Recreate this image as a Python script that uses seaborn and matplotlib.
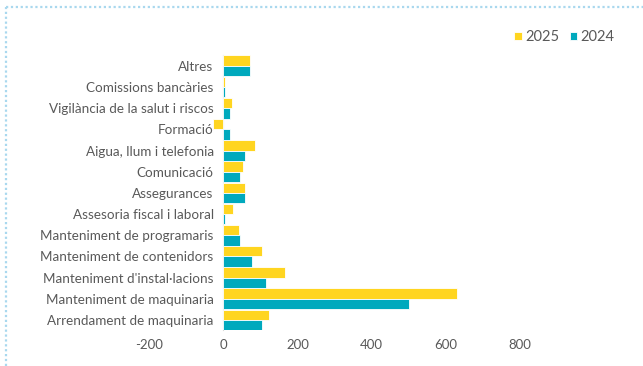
import numpy as np
import pandas as pd
import matplotlib
matplotlib.use("Agg")
import matplotlib.pyplot as plt
from matplotlib.lines import Line2D
import seaborn as sns

sns.set_style("white")
plt.rcParams.update({"font.family": ["Lato", "DejaVu Sans"], "font.size": 9.5,
                     "axes.unicode_minus": False})

YELLOW, TEAL, GREY = "#FFD520", "#00A9BD", "#595959"

categories = ["Altres", "Comissions bancàries", "Vigilància de la salut i riscos",
              "Formació", "Aigua, llum i telefonia", "Comunicació", "Assegurances",
              "Assesoria fiscal i laboral", "Manteniment de programaris",
              "Manteniment de contenidors", "Manteniment d'instal·lacions",
              "Manteniment de maquinaria", "Arrendament de maquinaria"]
vals_2025 = [72, 4, 22, -29, 86, 54, 58, 27, 41, 105, 165, 631, 123]
vals_2024 = [73, 4, 18, 18, 59, 46, 59, 4, 46, 78, 115, 499, 105]
years = ["2025", "2024"]

df = pd.DataFrame({
    "cat": categories * 2,
    "year": [years[0]] * len(categories) + [years[1]] * len(categories),
    "val": vals_2025 + vals_2024,
})

fig = plt.figure(figsize=(6.43, 3.66), dpi=100)
ax = fig.add_axes([0.232, 0.097, 0.577, 0.752])
sns.barplot(data=df, x="val", y="cat", hue="year", hue_order=years,
            palette=[YELLOW, TEAL], saturation=1, order=categories, width=0.98,
            edgecolor="white", linewidth=0.6, ax=ax)

ax.set_xlim(-200, 800)
ax.set_xticks([-200, 0, 200, 400, 600, 800])
ax.set_xlabel(""); ax.set_ylabel("")
for s in ax.spines.values():
    s.set_visible(False)
# category axis sits on zero, labels follow it
ax.spines["left"].set_visible(True)
ax.spines["left"].set_position(("data", 0))
ax.spines["left"].set_color("#d9d9d9")
ax.spines["left"].set_zorder(0)
ax.tick_params(axis="both", length=0, colors=GREY, labelsize=9.7)
ax.tick_params(axis="y", pad=7)
ax.tick_params(axis="x", pad=6, labelsize=9.5)

leg = ax.legend(loc="center right", bbox_to_anchor=(1.29, 1.066), ncol=2, frameon=False,
                handlelength=0.5, handleheight=0.5, handletextpad=0.25,
                columnspacing=0.7, fontsize=10.5)
for t in leg.get_texts():
    t.set_color(GREY)

# dotted frame on the left and top edges
fig.add_artist(Line2D([0.0095, 0.0095], [0, 0.98], transform=fig.transFigure,
                      color="#a9d8ee", lw=1.6, ls=(0, (1, 1.2))))
fig.add_artist(Line2D([0.0095, 1.0], [0.98, 0.98], transform=fig.transFigure,
                      color="#a9d8ee", lw=1.6, ls=(0, (1, 1.2))))

plt.savefig("out.png", dpi=100)
